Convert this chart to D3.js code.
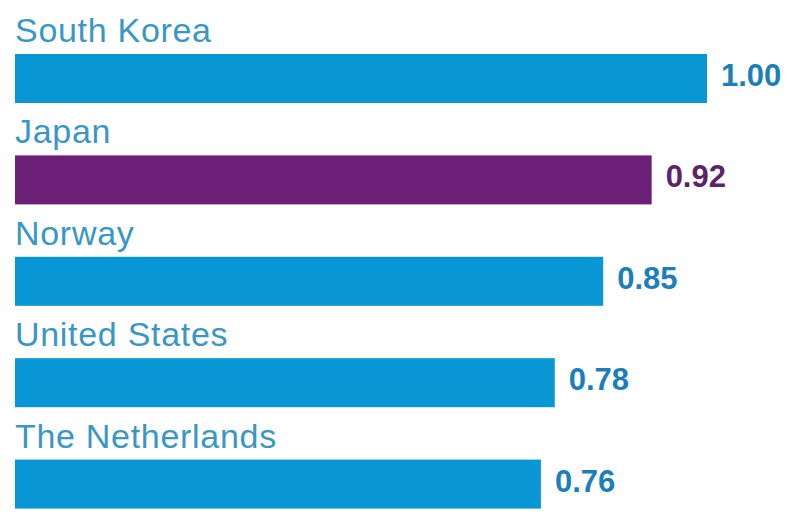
<!DOCTYPE html>
<html>
<head>
<meta charset="utf-8">
<script src="https://cdn.jsdelivr.net/npm/d3@7"></script>
<style>
  html, body { margin: 0; padding: 0; background: #fff; }
  svg { display: block; }
</style>
</head>
<body>
<svg id="chart" width="800" height="518"></svg>
<script>
const categories = ["South Korea", "Japan", "Norway", "United States", "The Netherlands"];
const values = [1.00, 0.92, 0.85, 0.78, 0.76];
const highlight = ["Japan"];

const svg = d3.select("#chart");
const x = d3.scaleLinear().domain([0, 1]).range([15, 707]);
const y = d3.scaleBand().domain(categories).range([0, 507]).paddingInner(0).paddingOuter(0);

const blue = "#0996d4", purple = "#6b1f77";
const labelBlue = "#3a97c4";
const valBlue = "#1c7fb8", valPurple = "#5c2468";

const rows = svg.selectAll("g.row").data(categories.map((c, i) => ({c, v: values[i]})))
  .enter().append("g").attr("class", "row");

rows.append("text")
  .attr("x", 15)
  .attr("y", d => y(d.c) + 42)
  .attr("font-family", "Liberation Sans, Arial, sans-serif")
  .attr("font-size", 34)
  .attr("letter-spacing", 0.7)
  .attr("fill", labelBlue)
  .text(d => d.c);

rows.append("rect")
  .attr("x", x(0))
  .attr("y", d => y(d.c) + 54)
  .attr("width", d => x(d.v) - x(0))
  .attr("height", 49)
  .attr("fill", d => highlight.includes(d.c) ? purple : blue);

rows.append("text")
  .attr("x", d => x(d.v) + 14)
  .attr("y", d => y(d.c) + 86)
  .attr("font-family", "Liberation Sans, Arial, sans-serif")
  .attr("font-weight", "bold")
  .attr("font-size", 31)
  .attr("fill", d => highlight.includes(d.c) ? valPurple : valBlue)
  .text(d => d3.format(".2f")(d.v));
</script>
</body>
</html>
